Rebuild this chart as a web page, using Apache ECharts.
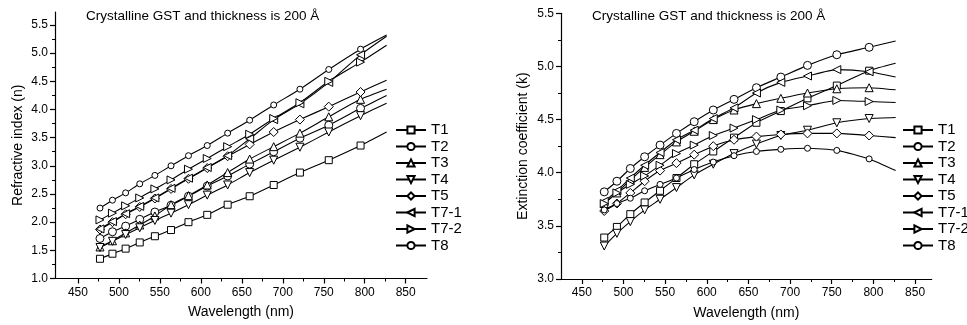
<!DOCTYPE html>
<html><head><meta charset="utf-8">
<script src="https://cdn.jsdelivr.net/npm/echarts@6/dist/echarts.min.js"></script>
<style>html,body{margin:0;padding:0;background:#fff}#c{width:967px;height:325px}</style>
</head><body><div id="c"></div>
<script>
// Wavelength (nm) of the sampled points (last one is the line end, no marker)
const wavelengths = [476.9, 492.1, 508.2, 525.4, 543.9, 563.6, 584.9, 607.8, 632.7, 659.6, 688.9, 720.9, 756.1, 794.9, 826.7];
const seriesNames = ['T1', 'T2', 'T3', 'T4', 'T5', 'T7-1', 'T7-2', 'T8'];

// Refractive index (n)
const nT1  = [1.35, 1.44, 1.53, 1.64, 1.75, 1.86, 2.00, 2.13, 2.31, 2.46, 2.66, 2.88, 3.10, 3.36, 3.60];
const nT2  = [1.71, 1.83, 1.93, 2.05, 2.18, 2.30, 2.46, 2.64, 2.82, 3.03, 3.25, 3.49, 3.72, 4.02, 4.25];
const nT3  = [1.56, 1.67, 1.81, 1.95, 2.11, 2.31, 2.47, 2.66, 2.88, 3.12, 3.34, 3.58, 3.87, 4.18, 4.36];
const nT4  = [1.55, 1.66, 1.78, 1.90, 2.03, 2.16, 2.31, 2.48, 2.66, 2.88, 3.10, 3.33, 3.60, 3.89, 4.11];
const nT5  = [1.87, 2.00, 2.14, 2.27, 2.42, 2.59, 2.77, 2.96, 3.17, 3.38, 3.60, 3.82, 4.05, 4.31, 4.52];
const nT71 = [1.88, 2.01, 2.15, 2.28, 2.43, 2.60, 2.78, 2.97, 3.18, 3.48, 3.82, 4.10, 4.48, 4.97, 5.30];
const nT72 = [2.04, 2.16, 2.29, 2.43, 2.59, 2.75, 2.94, 3.13, 3.34, 3.56, 3.84, 4.12, 4.50, 4.84, 5.14];
const nT8  = [2.25, 2.39, 2.52, 2.68, 2.83, 3.00, 3.18, 3.36, 3.58, 3.81, 4.08, 4.36, 4.71, 5.07, 5.32];

// Extinction coefficient (k)
const kT1  = [3.39, 3.49, 3.61, 3.72, 3.83, 3.95, 4.08, 4.20, 4.33, 4.47, 4.58, 4.70, 4.82, 4.96, 5.03];
const kT2  = [3.82, 3.92, 4.04, 4.15, 4.26, 4.37, 4.48, 4.59, 4.69, 4.80, 4.90, 5.01, 5.11, 5.18, 5.24];
const kT3  = [3.71, 3.81, 3.93, 4.05, 4.17, 4.29, 4.39, 4.50, 4.59, 4.65, 4.70, 4.75, 4.79, 4.80, 4.78];
const kT4  = [3.31, 3.43, 3.54, 3.65, 3.75, 3.86, 3.98, 4.08, 4.18, 4.27, 4.35, 4.40, 4.47, 4.51, 4.52];
const kT5  = [3.64, 3.71, 3.81, 3.92, 4.02, 4.09, 4.17, 4.25, 4.31, 4.34, 4.36, 4.37, 4.37, 4.35, 4.33];
const kT71 = [3.73, 3.83, 3.95, 4.07, 4.19, 4.31, 4.40, 4.51, 4.61, 4.75, 4.85, 4.91, 4.97, 4.95, 4.90];
const kT72 = [3.71, 3.81, 3.89, 3.97, 4.07, 4.18, 4.26, 4.35, 4.42, 4.50, 4.59, 4.63, 4.68, 4.67, 4.66];
const kT8  = [3.65, 3.71, 3.76, 3.83, 3.89, 3.95, 4.03, 4.10, 4.16, 4.20, 4.22, 4.23, 4.21, 4.13, 4.02];

// Tick labels
const xTickValues  = [450, 500, 550, 600, 650, 700, 750, 800, 850];
const xMinorValues = [475, 525, 575, 625, 675, 725, 775, 825];
const nTickValues  = [1.0, 1.5, 2.0, 2.5, 3.0, 3.5, 4.0, 4.5, 5.0, 5.5];
const nMinorValues = [1.25, 1.75, 2.25, 2.75, 3.25, 3.75, 4.25, 4.75, 5.25];
const kTickValues  = [3.0, 3.5, 4.0, 4.5, 5.0, 5.5];
const kMinorValues = [3.25, 3.75, 4.25, 4.75, 5.25];
const titleText = 'Crystalline GST and thickness is 200 Å';
const xName = 'Wavelength (nm)';
const nName = 'Refractive index (n)';
const kName = 'Extinction coefficient (k)';

const nData = [nT1, nT2, nT3, nT4, nT5, nT71, nT72, nT8];
const kData = [kT1, kT2, kT3, kT4, kT5, kT71, kT72, kT8];

const FONT = '"Liberation Sans", Arial, sans-serif';
const symbols = [
  {symbol: 'rect', size: 7, rotate: 0},
  {symbol: 'circle', size: 8, rotate: 0},
  {symbol: 'triangle', size: 8, rotate: 0},
  {symbol: 'triangle', size: 8, rotate: 180},
  {symbol: 'diamond', size: 9, rotate: 0},
  {symbol: 'triangle', size: 8, rotate: 90},
  {symbol: 'triangle', size: 8, rotate: -90},
  {symbol: 'circle', size: 6, rotate: 0}
];

function toPoints(vals) {
  return vals.map((v, i) => i < wavelengths.length - 1
    ? [wavelengths[i], v]
    : {value: [wavelengths[i], v], symbol: 'none'});
}

function mkSeries(vals, idx, axisIdx) {
  const s = symbols[idx];
  return {
    name: seriesNames[idx], type: 'line',
    xAxisIndex: axisIdx, yAxisIndex: axisIdx,
    data: toPoints(vals),
    smooth: 0.2,
    symbol: s.symbol, symbolSize: s.size, symbolRotate: s.rotate,
    showAllSymbol: true,
    lineStyle: {color: '#000', width: 1.1},
    itemStyle: {color: '#fff', borderColor: '#000', borderWidth: 1},
    emphasis: {disabled: true}
  };
}

function mainX(grid, min, max) {
  return {
    gridIndex: grid, type: 'value', min: min, max: max, position: 'bottom',
    axisLine: {show: true, onZero: false, lineStyle: {color: '#000', width: 1.2}},
    axisTick: {show: true, customValues: xTickValues, length: 5, lineStyle: {color: '#000', width: 1.2}},
    axisLabel: {customValues: xTickValues, margin: 8, color: '#000', fontSize: 12, fontFamily: FONT},
    splitLine: {show: false},
    name: xName, nameLocation: 'middle', nameGap: 27,
    nameTextStyle: {color: '#000', fontSize: 14, fontFamily: FONT}
  };
}
function minorX(grid, min, max) {
  return {
    gridIndex: grid, type: 'value', min: min, max: max, position: 'bottom',
    axisLine: {show: false, onZero: false},
    axisTick: {show: true, customValues: xMinorValues, length: 3, lineStyle: {color: '#000', width: 1}},
    axisLabel: {show: false}, splitLine: {show: false}
  };
}
function mainY(grid, min, max, ticks, name, gap) {
  return {
    gridIndex: grid, type: 'value', min: min, max: max, position: 'left',
    axisLine: {show: true, onZero: false, lineStyle: {color: '#000', width: 1.2}},
    axisTick: {show: true, customValues: ticks, length: 5, lineStyle: {color: '#000', width: 1.2}},
    axisLabel: {customValues: ticks, margin: 7, color: '#000', fontSize: 12, fontFamily: FONT,
      formatter: v => v.toFixed(1)},
    splitLine: {show: false},
    name: name, nameLocation: 'middle', nameGap: gap, nameRotate: 90,
    nameTextStyle: {color: '#000', fontSize: 14, fontFamily: FONT}
  };
}
function minorY(grid, min, max, ticks) {
  return {
    gridIndex: grid, type: 'value', min: min, max: max, position: 'left',
    axisLine: {show: false, onZero: false},
    axisTick: {show: true, customValues: ticks, length: 3, lineStyle: {color: '#000', width: 1}},
    axisLabel: {show: false}, splitLine: {show: false}
  };
}

function mkLegend(left) {
  return {
    orient: 'vertical', left: left, top: 122, padding: 0,
    itemWidth: 30, itemHeight: 9, itemGap: 0.5,
    textStyle: {color: '#000', fontSize: 15, lineHeight: 16, fontFamily: FONT},
    data: seriesNames, selectedMode: false
  };
}

const chart = echarts.init(document.getElementById('c'), null, {renderer: 'canvas'});
const series = [];
nData.forEach((v, i) => series.push(mkSeries(v, i, 0)));
kData.forEach((v, i) => series.push(mkSeries(v, i, 2)));

chart.setOption({
  animation: false,
  backgroundColor: '#fff',
  title: [
    {text: titleText, left: 86, top: 9, padding: 0,
     textStyle: {fontSize: 13.5, fontWeight: 'normal', color: '#000', fontFamily: FONT}},
    {text: titleText, left: 592, top: 9, padding: 0,
     textStyle: {fontSize: 13.5, fontWeight: 'normal', color: '#000', fontFamily: FONT}}
  ],
  legend: [mkLegend(395), mkLegend(902)],
  grid: [
    {left: 55, top: 12, right: 540, bottom: 46.5},
    {left: 561, top: 13.3, right: 35.3, bottom: 45.7}
  ],
  xAxis: [mainX(0, 422, 876), minorX(0, 422, 876), mainX(1, 425, 870), minorX(1, 425, 870)],
  yAxis: [mainY(0, 1, 5.73, nTickValues, nName, 30), minorY(0, 1, 5.73, nMinorValues),
          mainY(1, 3, 5.5, kTickValues, kName, 31), minorY(1, 3, 5.5, kMinorValues)],
  series: series
});
</script>
</body></html>
